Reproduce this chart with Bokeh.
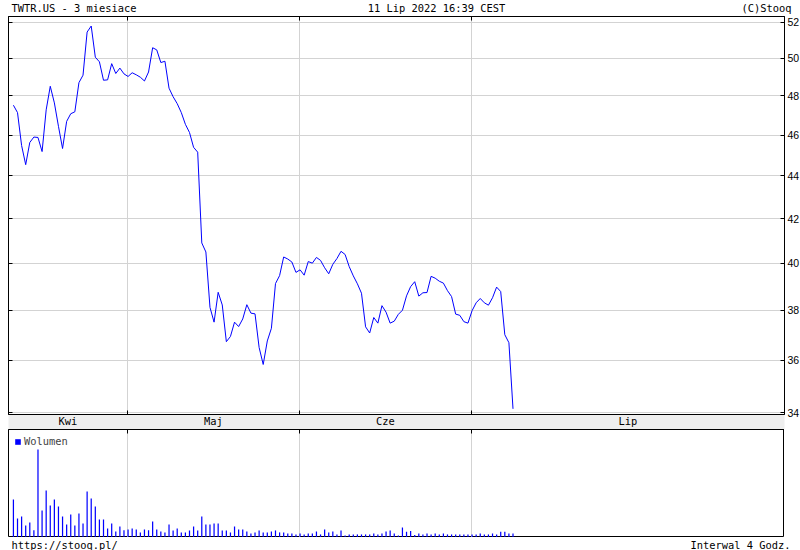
from bokeh.plotting import figure
from bokeh.models import (Range1d, FixedTicker, LinearAxis, LogAxis, Legend, LegendItem,
                          PrintfTickFormatter)
from bokeh.core.properties import value
from bokeh.layouts import column
from bokeh.embed import file_html
from bokeh.resources import INLINE

# ---------------- data ----------------
title_left = "TWTR.US - 3 miesiace"
title_center = "11 Lip 2022 16:39 CEST"
title_right = "(C)Stooq"
footer_left = "https://stooq.pl/"
footer_right = "Interwal 4 Godz."
volume_label = "Wolumen"

# closing price of every 4-hour bar
close = [
    47.52, 47.14, 45.48, 44.54, 45.63, 45.90, 45.88, 45.18, 47.28, 48.51,
    47.64, 46.44, 45.33, 46.69, 47.08, 47.18, 48.70, 49.10, 51.46, 51.80,
    50.07, 49.82, 48.83, 48.85, 49.72, 49.19, 49.48, 49.17, 49.03, 49.23,
    49.12, 48.99, 48.79, 49.27, 50.59, 50.47, 49.78, 49.85, 48.41, 47.96,
    47.60, 47.14, 46.54, 46.13, 45.39, 45.15, 40.90, 40.50, 38.13, 37.52,
    38.76, 38.23, 36.73, 36.94, 37.52, 37.34, 37.65, 38.24, 37.89, 37.86,
    36.50, 35.83, 36.76, 37.27, 39.13, 39.47, 40.28, 40.19, 40.06, 39.61,
    39.72, 39.49, 40.08, 40.01, 40.26, 40.13, 39.81, 39.55, 39.96, 40.21,
    40.53, 40.39, 39.86, 39.46, 39.12, 38.72, 37.33, 37.08, 37.71, 37.48,
    38.20, 37.93, 37.48, 37.56, 37.84, 38.01, 38.61, 39.00, 39.21, 38.60,
    38.74, 38.75, 39.44, 39.36, 39.23, 39.15, 38.83, 38.58, 37.85, 37.80,
    37.54, 37.48, 37.99, 38.32, 38.50, 38.32, 38.22, 38.53, 38.98, 38.79,
    37.01, 36.69, 34.14,
]

# volume of every 4-hour bar (mln shares)
volume = [
    28.5, 14.3, 15.8, 9.0, 11.3, 5.5, 66.0, 20.3, 35.3, 24.0,
    28.5, 23.3, 15.8, 9.8, 17.3, 9.0, 18.0, 10.5, 34.5, 29.3,
    23.3, 13.5, 13.5, 6.8, 10.5, 4.5, 8.3, 5.5, 6.0, 6.8,
    6.0, 3.8, 6.0, 5.5, 12.0, 6.0, 4.5, 3.8, 9.8, 5.3,
    6.8, 3.8, 3.8, 5.3, 8.3, 5.3, 15.8, 9.8, 9.8, 10.5,
    10.5, 5.3, 5.3, 3.8, 8.3, 6.0, 6.0, 4.5, 3.0, 3.8,
    5.3, 3.8, 3.8, 4.5, 5.3, 3.8, 3.8, 3.0, 3.0, 2.3,
    3.0, 2.3, 3.0, 3.0, 4.5, 2.3, 6.0, 3.8, 4.5, 2.3,
    5.3, 1.5, 2.3, 2.3, 2.3, 2.3, 2.3, 2.3, 3.0, 2.3,
    3.0, 4.5, 5.3, 3.0, 1.5, 7.5, 4.3, 4.8, 1.8, 3.0,
    2.3, 3.0, 2.3, 3.0, 2.3, 3.0, 2.3, 2.3, 2.3, 2.3,
    2.3, 2.3, 2.3, 2.3, 3.0, 2.3, 2.3, 3.0, 2.3, 4.3,
    4.3, 3.0, 3.0,
]

month_names = ["Kwi", "Maj", "Cze", "Lip"]
month_first_bar = [0, 28, 70, 112]
price_ticks = [34, 36, 38, 40, 42, 44, 46, 48, 50, 52]

# ---------------- layout / style ----------------
MONO = "DejaVu Sans Mono"
SANS = "Liberation Sans"
BLUE = "#0000ff"
GRID = "#d3d3d3"
PAGE_W = 800
LEFT = 8
FRAME_W = 776
HEAD_H = 16
PRICE_H = 398
BAND_H = 13
VOL_H = 108
FOOT_H = 15
TXT = "10.4px"

x_start, x_end = -1.2, 188.3
bars = list(range(len(close)))
month_edges = [b - 0.15 for b in month_first_bar[1:]]
all_edges = [x_start] + month_edges + [x_end]
month_centers = [(a + b) / 2 for a, b in zip(all_edges[:-1], all_edges[1:])]

x_range = Range1d(x_start, x_end)


def tick_only(ax, minor):
    ax.ticker = FixedTicker(ticks=[], minor_ticks=minor)
    ax.major_label_standoff = 0
    ax.major_tick_in = 0
    ax.major_tick_out = 0
    ax.minor_tick_in = 4
    ax.minor_tick_out = 0
    ax.axis_line_color = "black"
    ax.minor_tick_line_color = "black"


def text_strip(height, items, mid_y):
    # a strip whose data units are pixels of the page width / strip height
    f = figure(title=None, frame_width=PAGE_W, frame_height=height,
               x_range=Range1d(0, PAGE_W), y_range=Range1d(0, height),
               toolbar_location=None, output_backend="svg", x_axis_location=None,
               y_axis_location=None, min_border=0, outline_line_color=None,
               background_fill_color="white", border_fill_color="white")
    f.grid.visible = False
    for txt, xx, al in items:
        f.text(x=[xx], y=[mid_y], text=[txt], text_font=value(MONO), text_font_size=TXT,
               text_align=al, text_baseline="middle", text_color="black")
    return f


# ---------------- header ----------------
ph = text_strip(HEAD_H, [(title_left, 3, "left"), (title_center, 428, "center"),
                         (title_right, 783, "right")], 8.5)

# ---------------- price panel (month band is its lower axis) ----------------
p1 = figure(title=None, frame_width=FRAME_W, frame_height=PRICE_H, x_range=x_range,
            y_range=Range1d(33.93, 52.34), y_axis_type="log", y_axis_location="right",
            toolbar_location=None, output_backend="svg", min_border_left=LEFT,
            min_border_top=0, min_border_bottom=BAND_H, min_border_right=0,
            outline_line_color="black", outline_line_width=1,
            background_fill_color="white", border_fill_color="white")

p1.line(x=bars, y=close, line_color=BLUE, line_width=1)

p1.xgrid.ticker = FixedTicker(ticks=month_edges)
p1.ygrid.ticker = FixedTicker(ticks=price_ticks)
p1.grid.grid_line_color = GRID
p1.grid.grid_line_width = 1

band = p1.xaxis[0]
band.ticker = FixedTicker(ticks=month_centers, minor_ticks=month_edges)
band.major_label_overrides = {c: n for c, n in zip(month_centers, month_names)}
band.major_tick_in = 0
band.major_tick_out = 0
band.minor_tick_in = 4
band.minor_tick_out = 0
band.minor_tick_line_color = "black"
band.axis_line_color = "black"
band.major_label_standoff = 0
band.major_label_text_font = MONO
band.major_label_text_font_size = TXT
band.major_label_text_color = "black"
band.background_fill_color = "#eeeeee"

ry = p1.yaxis[0]
ry.ticker = FixedTicker(ticks=price_ticks)
ry.formatter = PrintfTickFormatter(format="%d")
ry.major_tick_in = 4
ry.major_tick_out = 0
ry.minor_tick_in = 0
ry.minor_tick_out = 0
ry.major_label_standoff = 3
ry.major_label_text_font = SANS
ry.major_label_text_font_size = "10.5px"
ry.major_label_text_color = "black"
ry.axis_line_color = "black"
ry.major_tick_line_color = "black"

top_ax = LinearAxis()
tick_only(top_ax, month_edges)
p1.add_layout(top_ax, "above")

left_ax = LogAxis()
tick_only(left_ax, price_ticks)
p1.add_layout(left_ax, "left")

# ---------------- volume panel ----------------
pv = figure(title=None, frame_width=FRAME_W, frame_height=VOL_H, x_range=x_range,
            y_range=Range1d(0, 81),
            toolbar_location=None, output_backend="svg", x_axis_location=None,
            y_axis_location=None, min_border_left=LEFT, min_border_right=0,
            min_border_top=0, min_border_bottom=0,
            outline_line_color="black", outline_line_width=1,
            background_fill_color="white", border_fill_color="white")
pv.xgrid.ticker = FixedTicker(ticks=month_edges)
pv.xgrid.grid_line_color = GRID
pv.ygrid.visible = False

vtop = LinearAxis()
tick_only(vtop, month_edges)
pv.add_layout(vtop, "above")

vr = pv.vbar(x=bars, top=volume, width=0.3, fill_color=BLUE, line_color=None)

leg = Legend(items=[LegendItem(label=volume_label, renderers=[vr])], location="top_left",
             glyph_width=7, glyph_height=7, label_height=9, label_standoff=3,
             padding=0, margin=6, spacing=0, border_line_color=None,
             background_fill_alpha=0, label_text_font=MONO, label_text_font_size=TXT)
pv.add_layout(leg)

# ---------------- footer ----------------
pf = text_strip(FOOT_H, [(footer_left, 3, "left"), (footer_right, 782, "right")], 7.5)

layout = column(ph, p1, pv, pf, spacing=0)

open("out.html", "w").write(file_html(layout, INLINE))
